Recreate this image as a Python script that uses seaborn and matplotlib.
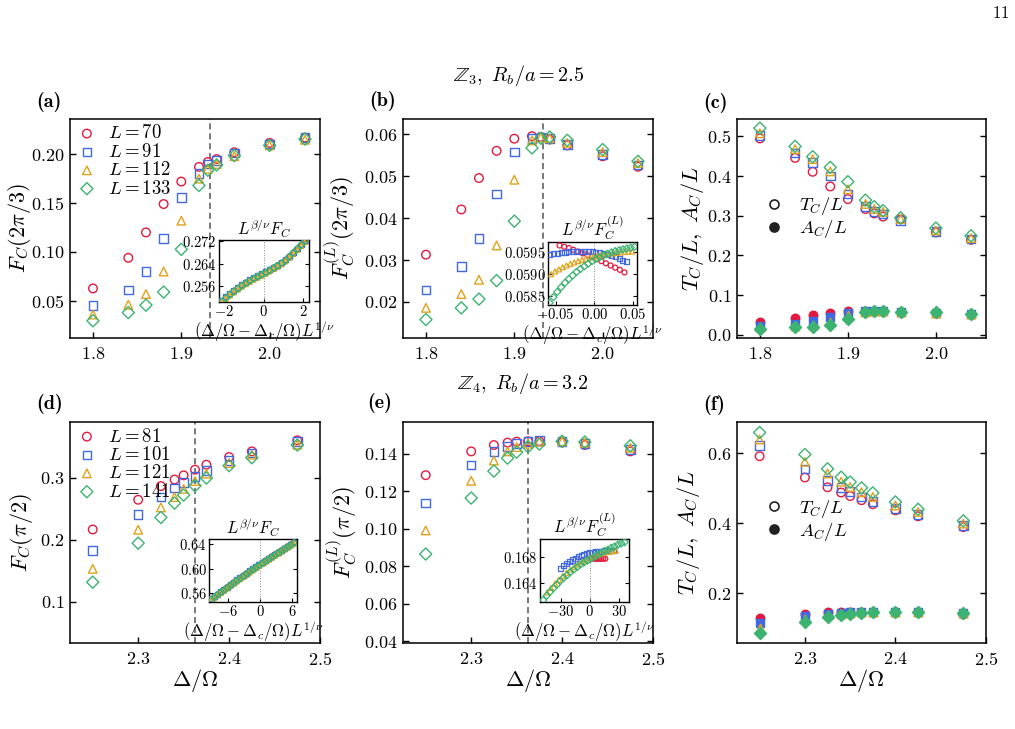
import numpy as np
import pandas as pd
import matplotlib
matplotlib.use("Agg")
import matplotlib.pyplot as plt
import seaborn as sns
from matplotlib.ticker import MultipleLocator, FuncFormatter
from matplotlib.lines import Line2D

# ---------------- data ----------------
sizes_z3 = [70, 91, 112, 133]
sizes_z4 = [81, 101, 121, 141]

delta_z3 = [1.80, 1.84, 1.86, 1.88, 1.90, 1.92, 1.93, 1.94, 1.96, 2.00, 2.04]
dc_z3 = 1.932

fc_z3_L70 = [0.0627, 0.094, 0.120, 0.149, 0.172, 0.187, 0.192, 0.195, 0.202, 0.2116, 0.217]
fc_z3_L91 = [0.045, 0.061, 0.080, 0.114, 0.1556, 0.1805, 0.190, 0.1935, 0.201, 0.2106, 0.217]
fc_z3_L112 = [0.036, 0.046, 0.057, 0.080, 0.132, 0.175, 0.185, 0.190, 0.198, 0.209, 0.2147]
fc_z3_L133 = [0.0296, 0.038, 0.0456, 0.059, 0.1027, 0.168, 0.1836, 0.189, 0.1986, 0.209, 0.2154]

fcl_z3_L70 = [0.0313, 0.0421, 0.0496, 0.0561, 0.0590, 0.0596, 0.0594, 0.0588, 0.0574, 0.0548, 0.0523]
fcl_z3_L91 = [0.0229, 0.0285, 0.0351, 0.0458, 0.0558, 0.0591, 0.0594, 0.0591, 0.0576, 0.0552, 0.0527]
fcl_z3_L112 = [0.0186, 0.0219, 0.0253, 0.0335, 0.0492, 0.0586, 0.0593, 0.0591, 0.0580, 0.0558, 0.0532]
fcl_z3_L133 = [0.0158, 0.0186, 0.0207, 0.0251, 0.0393, 0.0568, 0.0591, 0.0594, 0.0586, 0.0564, 0.0536]

tc_z3_L70 = [0.495, 0.446, 0.411, 0.374, 0.342, 0.317, 0.306, 0.298, 0.291, 0.258, 0.2395]
tc_z3_L91 = [0.502, 0.458, 0.435, 0.400, 0.355, 0.3235, 0.311, 0.305, 0.288, 0.2605, 0.242]
tc_z3_L112 = [0.508, 0.468, 0.443, 0.412, 0.367, 0.330, 0.317, 0.310, 0.292, 0.263, 0.2437]
tc_z3_L133 = [0.521, 0.475, 0.449, 0.422, 0.386, 0.3395, 0.323, 0.313, 0.295, 0.269, 0.2496]

delta_z4 = [2.25, 2.30, 2.325, 2.34, 2.35, 2.3625, 2.375, 2.40, 2.425, 2.475]
dc_z4 = 2.3625

fc_z4_L81 = [0.2164, 0.2644, 0.2865, 0.297, 0.3038, 0.313, 0.321, 0.3334, 0.3426, 0.3604]
fc_z4_L101 = [0.1825, 0.2407, 0.2687, 0.2833, 0.2919, 0.3022, 0.3119, 0.328, 0.340, 0.3588]
fc_z4_L121 = [0.1528, 0.2159, 0.252, 0.2687, 0.282, 0.2946, 0.3065, 0.3237, 0.3372, 0.3534]
fc_z4_L141 = [0.1313, 0.1943, 0.2358, 0.259, 0.272, 0.287, 0.2995, 0.3194, 0.3323, 0.3528]

fcl_z4_L81 = [0.1286, 0.1413, 0.1447, 0.146, 0.1465, 0.1467, 0.1467, 0.1461, 0.1447, 0.1413]
fcl_z4_L101 = [0.1137, 0.1341, 0.1413, 0.144, 0.1454, 0.1465, 0.147, 0.1467, 0.1456, 0.1422]
fcl_z4_L121 = [0.0991, 0.1256, 0.1364, 0.1413, 0.1436, 0.1454, 0.1465, 0.1467, 0.146, 0.1432]
fcl_z4_L141 = [0.0865, 0.1164, 0.1308, 0.1377, 0.1409, 0.1438, 0.1452, 0.1467, 0.1463, 0.1443]

tc_z4_L81 = [0.592, 0.531, 0.503, 0.488, 0.478, 0.466, 0.4545, 0.437, 0.420, 0.389]
tc_z4_L101 = [0.623, 0.556, 0.523, 0.503, 0.491, 0.4756, 0.463, 0.442, 0.425, 0.394]
tc_z4_L121 = [0.640, 0.576, 0.5426, 0.519, 0.504, 0.489, 0.4756, 0.451, 0.4325, 0.399]
tc_z4_L141 = [0.660, 0.597, 0.556, 0.532, 0.518, 0.5014, 0.487, 0.461, 0.440, 0.407]

# inset (a): scaling collapse of L^{beta/nu} F_C
ins_a_x = [-2.1, -1.9, -1.7, -1.5, -1.3, -1.1, -0.9, -0.7, -0.5, -0.3, -0.1,
           0.1, 0.3, 0.5, 0.7, 0.9, 1.1, 1.3, 1.5, 1.7, 1.9, 2.1]
ins_a_L70 = [0.2508, 0.2521, 0.2533, 0.2544, 0.2554, 0.2564, 0.2573, 0.2581, 0.2589, 0.2596, 0.2603,
             0.2610, 0.2617, 0.2625, 0.2633, 0.2642, 0.2651, 0.2665, 0.2678, 0.2691, 0.2705, 0.2719]
ins_a_L91 = [0.2510, 0.2523, 0.2535, 0.2546, 0.2556, 0.2566, 0.2575, 0.2583, 0.2591, 0.2598, 0.2605,
             0.2612, 0.2619, 0.2627, 0.2635, 0.2644, 0.2653, 0.2666, 0.2679, 0.2692, 0.2706, 0.2720]
ins_a_L112 = [0.2503, 0.2516, 0.2528, 0.2539, 0.2549, 0.2559, 0.2568, 0.2576, 0.2584, 0.2591, 0.2598,
              0.2605, 0.2613, 0.2621, 0.2629, 0.2638, 0.2648, 0.2661, 0.2674, 0.2688, 0.2702, 0.2716]
ins_a_L133 = [0.2506, 0.2519, 0.2531, 0.2542, 0.2552, 0.2562, 0.2571, 0.2579, 0.2587, 0.2594, 0.2601,
              0.2608, 0.2616, 0.2624, 0.2632, 0.2641, 0.2650, 0.2664, 0.2677, 0.2691, 0.2705, 0.2719]

# inset (b): L^{beta/nu} F_C^{(L)}
ins_b_x_L70 = [-0.045, -0.039, -0.033, -0.027, -0.021, -0.015, -0.009, -0.003, 0.003, 0.009,
               0.015, 0.021, 0.027, 0.033, 0.039]
ins_b_L70 = [0.05966, 0.05963, 0.05960, 0.05956, 0.05952, 0.05948, 0.05944, 0.05940, 0.05935, 0.05930,
             0.05925, 0.05920, 0.05915, 0.05910, 0.05904]
ins_b_x_L91 = [-0.058, -0.053, -0.048, -0.043, -0.038, -0.033, -0.028, -0.023, -0.018, -0.013, -0.008,
               -0.003, 0.002, 0.007, 0.012, 0.017, 0.022, 0.027, 0.032, 0.037, 0.042]
ins_b_L91 = [0.05945, 0.05947, 0.05948, 0.05949, 0.05950, 0.05951, 0.05952, 0.05952, 0.05952, 0.05952, 0.05952,
             0.05951, 0.05950, 0.05949, 0.05947, 0.05945, 0.05943, 0.05940, 0.05936, 0.05932, 0.05928]
ins_b_x_L112 = [-0.056, -0.051, -0.046, -0.041, -0.036, -0.031, -0.026, -0.021, -0.016, -0.011, -0.006,
                -0.001, 0.004, 0.009, 0.014, 0.019, 0.024, 0.029, 0.034, 0.039, 0.044, 0.049]
ins_b_L112 = [0.05900, 0.05906, 0.05911, 0.05916, 0.05920, 0.05924, 0.05927, 0.05930, 0.05933, 0.05935, 0.05938,
              0.05940, 0.05942, 0.05944, 0.05945, 0.05947, 0.05948, 0.05949, 0.05950, 0.05951, 0.05952, 0.05952]
ins_b_x_L133 = [-0.058, -0.053, -0.048, -0.043, -0.038, -0.033, -0.028, -0.023, -0.018, -0.013, -0.008, -0.003,
                0.002, 0.007, 0.012, 0.017, 0.022, 0.027, 0.032, 0.037, 0.042, 0.047, 0.052]
ins_b_L133 = [0.05834, 0.05847, 0.05859, 0.05870, 0.05880, 0.05889, 0.05897, 0.05905, 0.05912, 0.05918, 0.05924,
              0.05930, 0.05935, 0.05939, 0.05943, 0.05947, 0.05950, 0.05953, 0.05955, 0.05957, 0.05959,
              0.05961, 0.05963]

# inset (d)
ins_d_x = [-9.2, -8.6, -8.0, -7.4, -6.8, -6.2, -5.6, -5.0, -4.4, -3.8, -3.2, -2.6, -2.0, -1.4,
           -0.8, -0.2, 0.4, 1.0, 1.6, 2.2, 2.8, 3.4, 4.0, 4.6, 5.2, 5.8, 6.4]
ins_d_L81 = [0.5505, 0.5545, 0.5584, 0.5623, 0.5662, 0.5700, 0.5738, 0.5776, 0.5813, 0.5850, 0.5887,
             0.5923, 0.5959, 0.5994, 0.6029, 0.6064, 0.6099, 0.6133, 0.6167, 0.6201, 0.6234, 0.6267,
             0.6300, 0.6333, 0.6366, 0.6399, 0.6431]
ins_d_L101 = [0.5509, 0.5549, 0.5588, 0.5627, 0.5666, 0.5704, 0.5742, 0.5781, 0.5819, 0.5857, 0.5894,
              0.5931, 0.5967, 0.6002, 0.6037, 0.6072, 0.6107, 0.6141, 0.6175, 0.6208, 0.6241, 0.6273,
              0.6305, 0.6337, 0.6369, 0.6401, 0.6433]
ins_d_L121 = [0.5490, 0.5530, 0.5569, 0.5608, 0.5646, 0.5684, 0.5722, 0.5759, 0.5796, 0.5833, 0.5869,
              0.5905, 0.5941, 0.5976, 0.6011, 0.6046, 0.6081, 0.6115, 0.6149, 0.6183, 0.6217, 0.6250,
              0.6283, 0.6316, 0.6349, 0.6382, 0.6414]
ins_d_L141 = [0.5497, 0.5537, 0.5576, 0.5615, 0.5653, 0.5691, 0.5729, 0.5766, 0.5803, 0.5840, 0.5876,
              0.5912, 0.5948, 0.5983, 0.6018, 0.6053, 0.6088, 0.6122, 0.6156, 0.6190, 0.6224, 0.6257,
              0.6290, 0.6323, 0.6356, 0.6389, 0.6421]

# inset (e)
ins_e_x_L81 = [2, 4, 6, 8, 10, 12, 14, 16]
ins_e_L81 = [0.1679, 0.1678, 0.1678, 0.1678, 0.1678, 0.1678, 0.1678, 0.1678]
ins_e_x_L101 = [-30, -27, -24, -21, -18, -15, -12, -9, -6, -3, 0, 3, 6, 9, 12, 15, 18, 21, 24]
ins_e_L101 = [0.1663, 0.1667, 0.1670, 0.1673, 0.1676, 0.1679, 0.1681, 0.1683, 0.1685, 0.1686, 0.1687,
              0.1688, 0.1689, 0.1690, 0.1690, 0.1691, 0.1691, 0.1691, 0.1691]
ins_e_x_L121 = [-44, -40, -36, -32, -28, -24, -20, -16, -12, -8, -4, 0, 4, 8, 12, 16, 20, 24, 27]
ins_e_L121 = [0.1625, 0.1632, 0.1639, 0.1645, 0.1651, 0.1656, 0.1661, 0.1665, 0.1669, 0.1673, 0.1676,
              0.1679, 0.1682, 0.1684, 0.1686, 0.1688, 0.1689, 0.1690, 0.1691]
ins_e_x_L141 = [-48, -44.5, -41, -37.5, -34, -30.5, -27, -23.5, -20, -16.5, -13, -9.5, -6, -2.5,
                1, 4.5, 8, 11.5, 15, 18.5, 22, 25.5, 29, 32.5, 36]
ins_e_L141 = [0.1613, 0.1620, 0.1626, 0.1632, 0.1637, 0.1643, 0.1648, 0.1652, 0.1657, 0.1661, 0.1665,
              0.1669, 0.1672, 0.1675, 0.1678, 0.1681, 0.1684, 0.1687, 0.1690, 0.1692, 0.1695, 0.1697,
              0.1700, 0.1702, 0.1704]

# ---------------- style ----------------
sns.set_theme(style="ticks")
plt.rcParams.update({
    "font.family": ["serif"],
    "font.serif": ["cmr10", "DejaVu Serif"],
    "mathtext.fontset": "cm",
    "axes.unicode_minus": False,
    "axes.edgecolor": "black",
    "axes.linewidth": 1.1,
    "xtick.color": "black",
    "ytick.color": "black",
    "text.color": "black",
    "axes.labelcolor": "black",
})

colors = ["#e31a3e", "#4169e1", "#e0a21c", "#3cb371"]
markers = ["o", "s", "^", "D"]

W, H = 1015, 729
fig = plt.figure(figsize=(W / 100, H / 100), dpi=100)


def axpx(l, t, r, b):
    return fig.add_axes([l / W, 1 - b / H, (r - l) / W, (b - t) / H])


def fmt(d):
    def f(v, p):
        if abs(v) < 1e-12:
            v = 0.0
        return f"${v:.{d}f}$"
    return FuncFormatter(f)


def pts(ax, x, y, i, filled=False, s=38, lw=1.0, label=None, z=3):
    kw = dict(x=x, y=y, ax=ax, marker=markers[i], s=s, linewidth=lw, zorder=z,
              legend=False, color=colors[i], edgecolor=colors[i])
    if not filled:
        kw["facecolor"] = "none"
    if label is not None:
        kw["label"] = label
    sns.scatterplot(**kw)


def style_main(ax, xlim, ylim, xstep, ystep, xd, yd):
    ax.set_xlim(*xlim)
    ax.set_ylim(*ylim)
    ax.xaxis.set_major_locator(MultipleLocator(xstep))
    ax.yaxis.set_major_locator(MultipleLocator(ystep))
    ax.xaxis.set_major_formatter(fmt(xd))
    ax.yaxis.set_major_formatter(fmt(yd))
    ax.tick_params(direction="in", length=4, width=1, labelsize=13, right=True, top=False, pad=4)
    ax.tick_params(axis="x", pad=6)
    for sp in ax.spines.values():
        sp.set_visible(True)
        sp.set_color("black")


def style_inset(ax, xlim, ylim, xstep, ystep, xd, yd):
    ax.set_xlim(*xlim)
    ax.set_ylim(*ylim)
    ax.xaxis.set_major_locator(MultipleLocator(xstep))
    ax.yaxis.set_major_locator(MultipleLocator(ystep))
    ax.xaxis.set_major_formatter(fmt(xd))
    ax.yaxis.set_major_formatter(fmt(yd))
    ax.tick_params(direction="in", length=3, width=0.8, labelsize=10.5, right=True, pad=1.5)
    for sp in ax.spines.values():
        sp.set_visible(True)
        sp.set_linewidth(1.0)
    ax.axvline(0, color="#888888", lw=0.7, ls=":", zorder=1)
    ax.set_ylabel("")
    ax.set_xlabel(r"$(\Delta/\Omega-\Delta_c/\Omega)L^{1/\nu}$", fontsize=12, labelpad=0)


# ---------------- main axes ----------------
ax_a = axpx(70, 119, 320, 338)
ax_b = axpx(403, 119, 653, 338)
ax_c = axpx(737, 119, 986, 338)
ax_d = axpx(70, 422, 320, 643)
ax_e = axpx(403, 422, 653, 643)
ax_f = axpx(737, 422, 986, 643)

xl3 = (1.774, 2.057)
xl4 = (2.225, 2.5)

fa = [fc_z3_L70, fc_z3_L91, fc_z3_L112, fc_z3_L133]
fb = [fcl_z3_L70, fcl_z3_L91, fcl_z3_L112, fcl_z3_L133]
tcz3 = [tc_z3_L70, tc_z3_L91, tc_z3_L112, tc_z3_L133]
fd = [fc_z4_L81, fc_z4_L101, fc_z4_L121, fc_z4_L141]
fe = [fcl_z4_L81, fcl_z4_L101, fcl_z4_L121, fcl_z4_L141]
tcz4 = [tc_z4_L81, tc_z4_L101, tc_z4_L121, tc_z4_L141]

for i in range(4):
    pts(ax_a, delta_z3, fa[i], i, label=rf"$L={sizes_z3[i]}$")
    pts(ax_b, delta_z3, fb[i], i)
    pts(ax_c, delta_z3, tcz3[i], i)
    pts(ax_d, delta_z4, fd[i], i, label=rf"$L={sizes_z4[i]}$")
    pts(ax_e, delta_z4, fe[i], i)
    pts(ax_f, delta_z4, tcz4[i], i)
for i in range(4):
    pts(ax_c, delta_z3, fb[i], i, filled=True)
    pts(ax_f, delta_z4, fe[i], i, filled=True)

for ax in (ax_a, ax_b):
    ax.axvline(dc_z3, color="#555555", lw=1.1, ls=(0, (4, 2.5)), zorder=1)
for ax in (ax_d, ax_e):
    ax.axvline(dc_z4, color="#555555", lw=1.1, ls=(0, (4, 2.5)), zorder=1)

style_main(ax_a, xl3, (0.012, 0.236), 0.1, 0.05, 1, 2)
style_main(ax_b, xl3, (0.0114, 0.0637), 0.1, 0.01, 1, 2)
style_main(ax_c, xl3, (-0.008, 0.544), 0.1, 0.1, 1, 1)
style_main(ax_d, xl4, (0.033, 0.39), 0.1, 0.1, 1, 1)
style_main(ax_e, xl4, (0.039, 0.157), 0.1, 0.02, 1, 2)
style_main(ax_f, xl4, (0.057, 0.69), 0.1, 0.2, 1, 1)

ylabels = {
    ax_a: (r"$F_C(2\pi/3)$", -0.148),
    ax_b: (r"$F_C^{(L)}(2\pi/3)$", -0.185),
    ax_c: (r"$T_C/L,\ A_C/L$", -0.125),
    ax_d: (r"$F_C(\pi/2)$", -0.14),
    ax_e: (r"$F_C^{(L)}(\pi/2)$", -0.175),
    ax_f: (r"$T_C/L,\ A_C/L$", -0.14),
}
for ax, (lab, xc) in ylabels.items():
    ax.set_ylabel(lab, fontsize=16)
    ax.yaxis.set_label_coords(xc, 0.5)
for ax in (ax_a, ax_b, ax_c):
    ax.set_xlabel("")
for ax in (ax_d, ax_e, ax_f):
    ax.set_xlabel(r"$\Delta/\Omega$", fontsize=16)
    ax.xaxis.set_label_coords(0.5, -0.11)

# legends
for ax in (ax_a, ax_d):
    ax.legend(loc="upper left", bbox_to_anchor=(0.03, 0.975), frameon=False, fontsize=13.5,
              handlelength=1.0, handletextpad=0.65, labelspacing=0.02, borderpad=0, borderaxespad=0)

tl_handles = [Line2D([], [], ls="", marker="o", ms=6.5, mfc="none", mec="#222222", mew=1.2),
              Line2D([], [], ls="", marker="o", ms=6.5, mfc="#222222", mec="#222222", mew=1.2)]
tl_labels = [r"$T_C/L$", r"$A_C/L$"]
ax_c.legend(tl_handles, tl_labels, loc="upper left", bbox_to_anchor=(0.075, 0.695), frameon=False,
            fontsize=13.5, handlelength=1.0, handletextpad=0.8, labelspacing=0.05, borderpad=0)
ax_f.legend(tl_handles, tl_labels, loc="upper left", bbox_to_anchor=(0.075, 0.70), frameon=False,
            fontsize=13.5, handlelength=1.0, handletextpad=0.8, labelspacing=0.05, borderpad=0)

# ---------------- insets ----------------
in_a = axpx(219, 240, 309, 302)
in_b = axpx(548, 242, 637, 305)
in_d = axpx(209, 539, 297, 602)
in_e = axpx(540, 539, 629, 602)

ia = [ins_a_L70, ins_a_L91, ins_a_L112, ins_a_L133]
idd = [ins_d_L81, ins_d_L101, ins_d_L121, ins_d_L141]
ibx = [ins_b_x_L70, ins_b_x_L91, ins_b_x_L112, ins_b_x_L133]
iby = [ins_b_L70, ins_b_L91, ins_b_L112, ins_b_L133]
iex = [ins_e_x_L81, ins_e_x_L101, ins_e_x_L121, ins_e_x_L141]
iey = [ins_e_L81, ins_e_L101, ins_e_L121, ins_e_L141]
for i in range(4):
    pts(in_a, ins_a_x, ia[i], i, s=13, lw=0.9)
    pts(in_d, ins_d_x, idd[i], i, s=13, lw=0.9)
    pts(in_b, ibx[i], iby[i], i, s=13, lw=0.9)
    pts(in_e, iex[i], iey[i], i, s=13, lw=0.9)

style_inset(in_a, (-2.25, 2.3), (0.2505, 0.2723), 2, 0.008, 0, 3)
style_inset(in_b, (-0.060, 0.0552), (0.05829, 0.05974), 0.05, 0.0005, 2, 4)
style_inset(in_d, (-9.6, 6.95), (0.546, 0.6486), 6, 0.04, 0, 2)
style_inset(in_e, (-51.4, 40.5), (0.1610, 0.1709), 30, 0.004, 0, 3)
in_a.set_title(r"$L^{\beta/\nu}F_C$", fontsize=12, pad=2)
in_b.set_title(r"$L^{\beta/\nu}F_C^{(L)}$", fontsize=12, pad=2)
in_d.set_title(r"$L^{\beta/\nu}F_C$", fontsize=12, pad=2)
in_e.set_title(r"$L^{\beta/\nu}F_C^{(L)}$", fontsize=12, pad=2)

# ---------------- text ----------------
def ftxt(x, y, s, **kw):
    fig.text(x / W, 1 - y / H, s, **kw)

for lab, x, y in [("a", 36, 102), ("b", 369, 101), ("c", 703, 103),
                  ("d", 36, 404), ("e", 367, 403), ("f", 703, 405)]:
    ftxt(x, y, f"({lab})", fontsize=14.5, ha="left", va="center", family="cmb10")

ftxt(519, 75, r"$\mathbb{Z}_3,\ R_b/a=2.5$", fontsize=14.5, ha="center", va="center")
ftxt(523, 383, r"$\mathbb{Z}_4,\ R_b/a=3.2$", fontsize=14.5, ha="center", va="center")
ftxt(1001, 13, r"$11$", fontsize=12, ha="center", va="center")

fig.savefig("out.png", dpi=100)
